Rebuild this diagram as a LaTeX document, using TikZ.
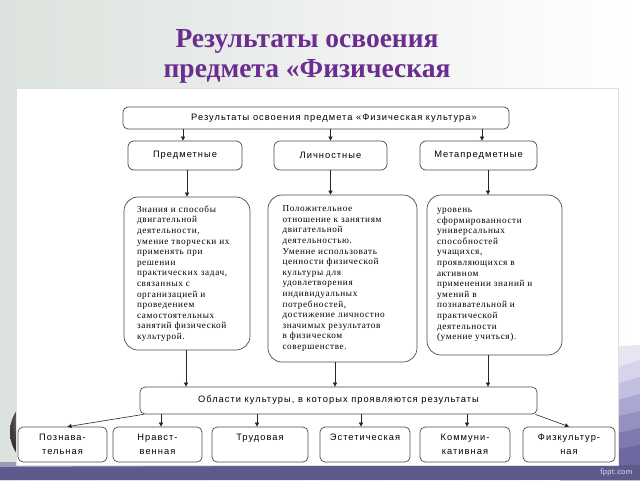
\documentclass[tikz,border=0pt]{standalone}
\usepackage{fontspec}
\setmainfont{Liberation Serif}
\newfontfamily\dsans[LetterSpace=11]{Liberation Sans}
\newfontfamily\dserif[LetterSpace=7]{Liberation Serif}
\usetikzlibrary{arrows.meta,shadings}
\definecolor{ttl}{HTML}{6B2D8F}
\definecolor{bord}{HTML}{4A4A4A}
\definecolor{band}{HTML}{5E5A8E}
\definecolor{bgl}{HTML}{DCE2DD}
\definecolor{stripe}{HTML}{E6E5F2}
\definecolor{sw}{HTML}{9A9AB8}
\begin{document}
\begin{tikzpicture}[x=1pt,y=-1pt,
  hbox/.style={draw=bord, line width=0.7pt, rounded corners=5pt, fill=white, inner sep=0pt,
    font=\dsans\fontsize{9.3}{14}\selectfont, align=center},
  tbox/.style={draw=bord, line width=0.7pt, rounded corners=14pt, fill=white, inner sep=0pt,
    font=\dserif\fontsize{9.2}{10.6}\selectfont, align=flush left},
  arr/.style={draw=black!85, line width=0.6pt, -{Triangle[length=4pt,width=4pt]}},
]
\useasboundingbox (0,0) rectangle (640,480);
% background
\shade[left color=bgl, right color=white] (0,0) rectangle (640,480);
\fill[stripe] (560,480) -- (560,350) -- (640,345) -- (640,480) -- cycle;
\foreach \i/\c in {0/D6D4EA,1/C2BFDF,2/AAA7D0,3/9490BF,4/7F7BB0,5/6C68A0}{
  \definecolor{stc}{HTML}{\c}
  \fill[stc] (560,{385+\i*15}) -- (640,{360+\i*17}) -- (640,480) -- (560,480) -- cycle;
}
\shade[ball color=gray!70!black] (48,432) circle (38);
\fill[band] (0,465) rectangle (640,480);
\fill[sw] (0,462) .. controls (80,462) and (200,464) .. (280,466) -- (0,467) -- cycle;
\node[font=\sffamily\fontsize{8.5}{10}\selectfont, text=white!75!band, anchor=east] (fp) at (636,472) {fppt.com};
% white panel
\fill[white, draw=gray!25] (16,88) rectangle (618,465);
% title
\node[font=\bfseries\fontsize{27.5}{30}\selectfont, text=ttl, align=center] (title) at (307,56)
  {Результаты освоения\\предмета «Физическая};
% level 1
\node[hbox, minimum width=386pt, minimum height=22pt] (top) at (316,118)
  {\hspace*{36pt}Результаты освоения предмета «Физическая культура»};
% level 2
\node[hbox, rounded corners=6pt, minimum width=114pt, minimum height=29pt] (l2a) at (185,155.5) {Предметные};
\node[hbox, rounded corners=6pt, minimum width=113pt, minimum height=29pt] (l2b) at (330.5,155.5) {Личностные};
\node[hbox, rounded corners=6pt, minimum width=117pt, minimum height=29pt] (l2c) at (478.5,155.5) {Метапредметные};
% level 3
\node[tbox, minimum width=126pt, minimum height=153pt, text width=100pt] (l3a) at (187,273.5)
  {Знания и способы\\двигательной\\деятельности,\\умение творчески их\\применять при\\решении\\практических задач,\\связанных с\\организацией и\\проведением\\самостоятельных\\занятий физической\\культурой.};
\node[tbox, minimum width=149pt, minimum height=167pt, text width=120pt] (l3b) at (342.5,278.5)
  {Положительное\\отношение к занятиям\\двигательной\\деятельностью.\\Умение использовать\\ценности физической\\культуры для\\удовлетворения\\индивидуальных\\потребностей,\\достижение личностно\\значимых результатов\\в физическом\\совершенстве.};
\node[tbox, minimum width=135pt, minimum height=160pt, text width=115pt] (l3c) at (494.5,275)
  {уровень\\сформированности\\универсальных\\способностей\\учащихся,\\проявляющихся в\\активном\\применении знаний и\\умений в\\познавательной и\\практической\\деятельности\\(умение учиться).};
% level 4
\node[hbox, minimum width=397pt, minimum height=27pt] (bot) at (338.5,400.5)
  {Области культуры, в которых проявляются результаты};
% level 5
\node[hbox, minimum width=89pt, minimum height=35pt] (b1) at (62.5,444.5) {Познава-\\тельная};
\node[hbox, minimum width=89pt, minimum height=35pt] (b2) at (157.5,444.5) {Нравст-\\венная};
\node[hbox, minimum width=96pt, minimum height=35pt] (b3) at (260,444.5) {Трудовая\\\mbox{}};
\node[hbox, minimum width=90pt, minimum height=35pt] (b4) at (365,444.5) {Эстетическая\\\mbox{}};
\node[hbox, minimum width=90pt, minimum height=35pt] (b5) at (465,444.5) {Коммуни-\\кативная};
\node[hbox, minimum width=92pt, minimum height=35pt] (b6) at (569,444.5) {Физкультур-\\ная};
% connectors
\coordinate (ta) at ([xshift=-2pt]l2a.north);
\coordinate (tc) at ([xshift=3.5pt]l2c.north);
\draw[arr] (ta |- top.south) -- (ta);
\draw[arr] (l2b.north |- top.south) -- (l2b.north);
\draw[arr] (tc |- top.south) -- (tc);
\coordinate (ma) at ([xshift=2pt]l2a.south);
\coordinate (mc) at ([xshift=9.5pt]l2c.south);
\draw[arr] (ma) -- (ma |- l3a.north);
\draw[arr] (l2b.south) -- (l2b.south |- l3b.north);
\draw[arr] (mc) -- (mc |- l3c.north);
\coordinate (da) at ([xshift=-1pt]l3a.south);
\coordinate (db) at ([xshift=-7.5pt]l3b.south);
\coordinate (dc) at ([xshift=-6.5pt]l3c.south);
\draw[arr] (da) -- (da |- bot.north);
\draw[arr] (db) -- (db |- bot.north);
\draw[arr] (dc) -- (dc |- bot.north);
\draw[arr] ([xshift=4pt]bot.south west) -- ([xshift=5pt]b1.north);
\coordinate (e2) at ([xshift=3.5pt]b2.north);
\coordinate (e3) at ([xshift=-3pt]b3.north);
\coordinate (e4) at ([xshift=-4pt]b4.north);
\coordinate (e5) at ([xshift=2pt]b5.north);
\draw[arr] (e2 |- bot.south) -- (e2);
\draw[arr] (e3 |- bot.south) -- (e3);
\draw[arr] (e4 |- bot.south) -- (e4);
\draw[arr] (e5 |- bot.south) -- (e5);
\draw[arr] ([xshift=-2pt]bot.south east) -- (b6.north);
\end{tikzpicture}
\end{document}
